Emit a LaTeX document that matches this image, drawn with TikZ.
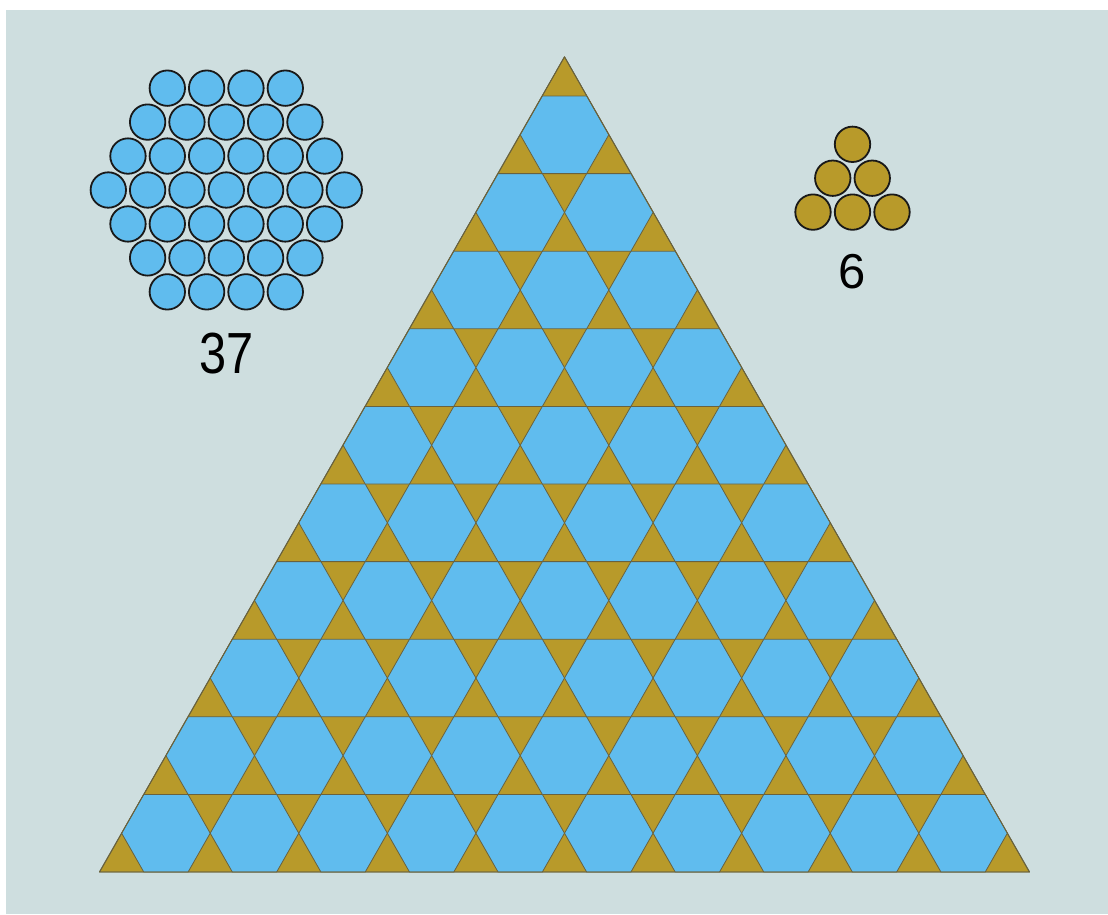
\documentclass[tikz,border=0pt]{standalone}
\usepackage{fontspec}
\setmainfont{Liberation Sans}
\definecolor{bgc}{RGB}{206,222,223}
\definecolor{hexblue}{RGB}{96,188,238}
\definecolor{goldc}{RGB}{184,154,42}
\definecolor{tileline}{RGB}{105,98,62}
\definecolor{ringc}{RGB}{25,25,25}
\tikzset{
  hexs/.style={fill=hexblue, draw=tileline, line width=0.8pt, line join=round},
  bigtri/.style={fill=goldc, draw=tileline, line width=0.9pt, line join=round},
  bluedisc/.style={fill=hexblue, draw=ringc, line width=1.8pt},
  golddisc/.style={fill=goldc, draw=ringc, line width=1.8pt},
  numlabel/.style={inner sep=0pt, text=black}
}
\begin{document}
\begin{tikzpicture}[x=1pt,y=-1pt]
\useasboundingbox (0,0) rectangle (1108,914);
\fill[white] (0,0) rectangle (1108,914);
\fill[bgc] (6,10) rectangle (1108,914);
% big triangle
\coordinate (A) at (99.5,872);
\coordinate (B) at (1029.5,872);
\coordinate (C) at (564.5,56.8);
\draw[bigtri] (A) -- (B) -- (C) -- cycle;
% hexagons
\def\tt{44.2857}
\def\hh{77.6}
\foreach \r in {0,...,9}{
  \pgfmathtruncatemacro\kmax{9-\r}
  \foreach \k in {0,...,\kmax}{
    \pgfmathsetmacro\cx{99.5+(1.5+\r+2*\k)*\tt}
    \pgfmathsetmacro\cy{872-(\r+0.5)*\hh}
    \draw[hexs] (\cx-\tt,\cy) -- (\cx-0.5*\tt,\cy-0.5*\hh) -- (\cx+0.5*\tt,\cy-0.5*\hh)
      -- (\cx+\tt,\cy) -- (\cx+0.5*\tt,\cy+0.5*\hh) -- (\cx-0.5*\tt,\cy+0.5*\hh) -- cycle;
  }
}
\draw[draw=tileline, line width=0.9pt, line join=round] (A) -- (B) -- (C) -- cycle;
% 37 hexagonal packing
\foreach \j in {-3,...,3}{
  \pgfmathtruncatemacro\nn{7-abs(\j)}
  \pgfmathtruncatemacro\imax{\nn-1}
  \foreach \i in {0,...,\imax}{
    \pgfmathsetmacro\px{226.3+(\i-(\nn-1)/2)*39.33}
    \pgfmathsetmacro\py{190+\j*33.95}
    \draw[bluedisc] (\px,\py) circle[radius=17.7];
  }
}
\node[numlabel, font=\fontsize{58}{60}\selectfont, xscale=0.84] (n37) at (227,354) {37};
% 6 triangular packing
\foreach \j in {0,1,2}{
  \foreach \i in {0,...,\j}{
    \pgfmathsetmacro\px{852.5+(\i-\j/2)*39.5}
    \pgfmathsetmacro\py{144.3+\j*33.9}
    \draw[golddisc] (\px,\py) circle[radius=17.7];
  }
}
\node[numlabel, font=\fontsize{49}{51}\selectfont] (n6) at (852,272) {6};
\end{tikzpicture}
\end{document}
